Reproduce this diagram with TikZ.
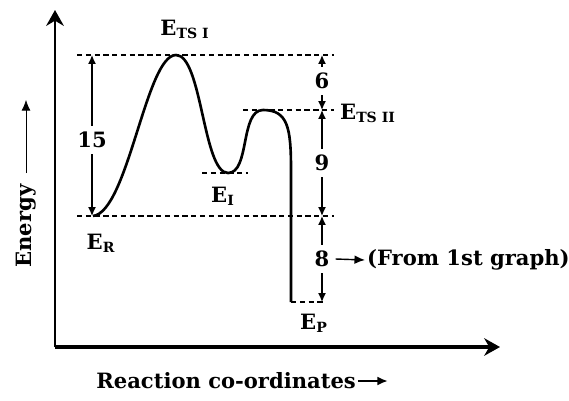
\documentclass[tikz,border=0pt]{standalone}
\usepackage{fontspec}
\setmainfont{DejaVu Serif}
\usepackage{tikz}
\usetikzlibrary{arrows.meta,calc}
\usetikzlibrary{positioning}

\begin{document}
\begin{tikzpicture}[
    x=0.02cm, y=-0.02cm,
    >=Stealth,
    font=\fontsize{12}{14}\selectfont\bfseries,
    nivel/.style={densely dashed, thick},
    cota/.style={thick, -{Latex[length=5pt,width=4.5pt]}},
    eixo/.style={line width=1.6pt, -{Stealth[length=9pt,width=10pt]}},
    seta/.style={thick, -{Latex[length=6pt,width=5pt]}}
  ]
  \useasboundingbox (0,0) rectangle (569,400);

  % ── eixos ────────────────────────────────────────────────────────
  \coordinate (O)    at (55,347);
  \coordinate (Ytop) at (55,10);
  \coordinate (Xend) at (500,347);
  \draw[eixo] (O) -- (Ytop);
  \draw[eixo, line width=2pt] (O) -- (Xend);

  \node[rotate=90] (energia) at (26,226) {Energy};
  \coordinate (energiaSeta) at (26,100);
  \draw[seta, thin] ([yshift=3pt]energia.east) -- (energiaSeta);

  \node[anchor=west, inner sep=0pt] (coord) at (96,381) {Reaction co-ordinates};
  \coordinate (coordSeta) at (388,381);
  \draw[seta, line width=1.2pt] ([xshift=1pt]coord.east) -- (coordSeta);

  % ── níveis de energia ────────────────────────────────────────────
  \coordinate (R)  at (93,216);
  \coordinate (T1) at (176,55);
  \coordinate (I)  at (228,173);
  \coordinate (T2) at (263,110);
  \coordinate (P)  at (291,302);

  \draw[nivel] (77,55)  -- (334,55);
  \draw[nivel] (243,110) -- (334,110);
  \draw[nivel] (202,173) -- (248,173);
  \draw[nivel] (77,216) -- (334,216);
  \draw[nivel] (P) -- (326,302);

  % ── curva ────────────────────────────────────────────────────────
  \draw[line width=1.5pt]
    (R) .. controls (128,212) and (146,55) .. (T1)
        .. controls (202,55) and (203,173) .. (I)
        .. controls (250,173) and (240,110) .. (T2)
        .. controls (288,110) and (291,128) .. (291,170)
        -- (P);

  % ── cotas ────────────────────────────────────────────────────────
  \node (q15) at (92,140) {15};
  \draw[cota] (q15.north) -- (92,55);
  \draw[cota] (q15.south) -- (92,216);

  \node (q6) at (322,81) {6};
  \draw[cota] (q6.north) -- (322,55);
  \draw[cota] (q6.south) -- (322,110);

  \node (q9) at (322,163) {9};
  \draw[cota] (q9.north) -- (322,110);
  \draw[cota] (q9.south) -- (322,216);

  \node (q8) at (322,259) {8};
  \draw[cota] (q8.north) -- (322,216);
  \draw[cota] (q8.south) -- (322,302);

  \node[anchor=west, inner sep=1pt] (fonte) at (365,260) {(From 1st graph)};
  \draw[seta] (q8.east) -- (fonte.west);

  % ── rótulos ──────────────────────────────────────────────────────
  \node (ets1) at (185,29)  {E\textsubscript{TS I}};
  \node[anchor=west] (ets2) at (334,113) {E\textsubscript{TS II}};
  \node (ei)   at (223,196) {E\textsubscript{I}};
  \node (er)   at (101,243) {E\textsubscript{R}};
  \node (ep)   at (314,323) {E\textsubscript{P}};

\end{tikzpicture}
\end{document}
